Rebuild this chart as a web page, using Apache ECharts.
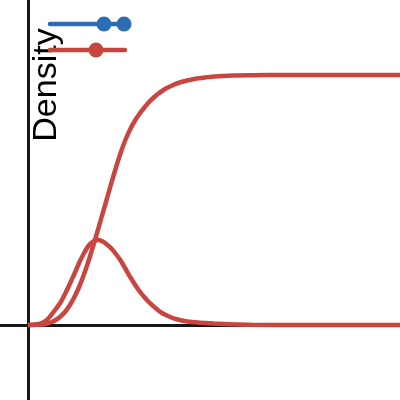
<!DOCTYPE html>
<html>
<head>
<meta charset="utf-8">
<script src="https://cdn.jsdelivr.net/npm/echarts@6/dist/echarts.min.js"></script>
<style>
  html, body { margin: 0; padding: 0; background: #fff; }
</style>
</head>
<body>
<div id="myChart" style="width:400px;height:400px;"></div>
<script>
// x positions (arbitrary units)
var xs = [0, 0.125, 0.25, 0.375, 0.5, 0.625, 0.75, 0.875, 1.0, 1.125, 1.25, 1.375, 1.5, 1.625, 1.75, 1.875,
  2.0, 2.125, 2.25, 2.375, 2.5, 2.625, 2.75, 2.875, 3.0, 3.125, 3.25, 3.375, 3.5, 3.625, 3.75, 3.875,
  4.0, 4.25, 4.5, 4.75, 5.0, 5.5, 6.0, 7.0, 8.0, 9.0, 10.0]
// probability density
var density = [0, 0.001, 0.003, 0.008, 0.019, 0.04, 0.064, 0.09, 0.125, 0.164, 0.205, 0.248, 0.285, 0.316, 0.333, 0.34,
  0.335, 0.322, 0.305, 0.282, 0.256, 0.224, 0.192, 0.162, 0.135, 0.112, 0.092, 0.075, 0.059, 0.046, 0.037, 0.029,
  0.023, 0.015, 0.011, 0.008, 0.006, 0.003, 0.001, 0, 0, 0, 0]
// cumulative distribution
var cumulative = [0, 0, 0.001, 0.002, 0.005, 0.011, 0.02, 0.034, 0.053, 0.079, 0.112, 0.152, 0.2, 0.254, 0.314, 0.377,
  0.442, 0.506, 0.572, 0.634, 0.692, 0.742, 0.783, 0.817, 0.845, 0.869, 0.891, 0.909, 0.925, 0.938, 0.949, 0.958,
  0.966, 0.977, 0.985, 0.99, 0.994, 0.998, 0.999, 1, 1, 1, 1]

var red = '#c9453f'
var blue = '#2c6db4'
var axisColor = '#161616'

function pairs(ys) {
  var out = []
  for (var i = 0; i < xs.length; i++) {
    out.push([xs[i], ys[i]])
  }
  return out
}

var myChart = echarts.init(document.getElementById('myChart'))

var option = {
  backgroundColor: '#fff',
  animation: false,
  grid: { left: 0, right: 0, top: 0, bottom: 0 },
  xAxis: {
    type: 'value',
    min: -0.75,
    max: 10,
    axisLine: { onZero: true, lineStyle: { color: axisColor, width: 3 } },
    axisTick: { show: false },
    axisLabel: { show: false },
    splitLine: { show: false }
  },
  yAxis: {
    type: 'value',
    min: -0.3,
    max: 1.3,
    axisLine: { show: true, onZero: true, lineStyle: { color: axisColor, width: 3 } },
    axisTick: { show: false },
    axisLabel: { show: false },
    splitLine: { show: false }
  },
  series: [
    {
      name: 'density',
      type: 'line',
      smooth: 0.25,
      showSymbol: false,
      lineStyle: { color: red, width: 4.5 },
      data: pairs(density)
    },
    {
      name: 'cumulative',
      type: 'line',
      smooth: 0.25,
      showSymbol: false,
      lineStyle: { color: red, width: 4.5 },
      data: pairs(cumulative)
    }
  ],
  graphic: [
    {
      type: 'text',
      x: 64,
      y: 85,
      rotation: Math.PI / 2,
      style: {
        text: 'Density',
        font: '34px "Liberation Sans", Arial, sans-serif',
        fill: '#000',
        textAlign: 'center',
        textVerticalAlign: 'bottom'
      }
    },
    {
      type: 'line',
      shape: { x1: 50, y1: 24, x2: 124, y2: 24 },
      style: { stroke: blue, lineWidth: 4.5, lineCap: 'round' }
    },
    { type: 'circle', shape: { cx: 104, cy: 24, r: 7.5 }, style: { fill: blue } },
    { type: 'circle', shape: { cx: 124, cy: 24, r: 7.5 }, style: { fill: blue } },
    {
      type: 'line',
      shape: { x1: 50, y1: 50, x2: 125, y2: 50 },
      style: { stroke: red, lineWidth: 4.5, lineCap: 'round' }
    },
    { type: 'circle', shape: { cx: 96, cy: 50, r: 7.5 }, style: { fill: red } }
  ]
}

myChart.setOption(option)
</script>
</body>
</html>
